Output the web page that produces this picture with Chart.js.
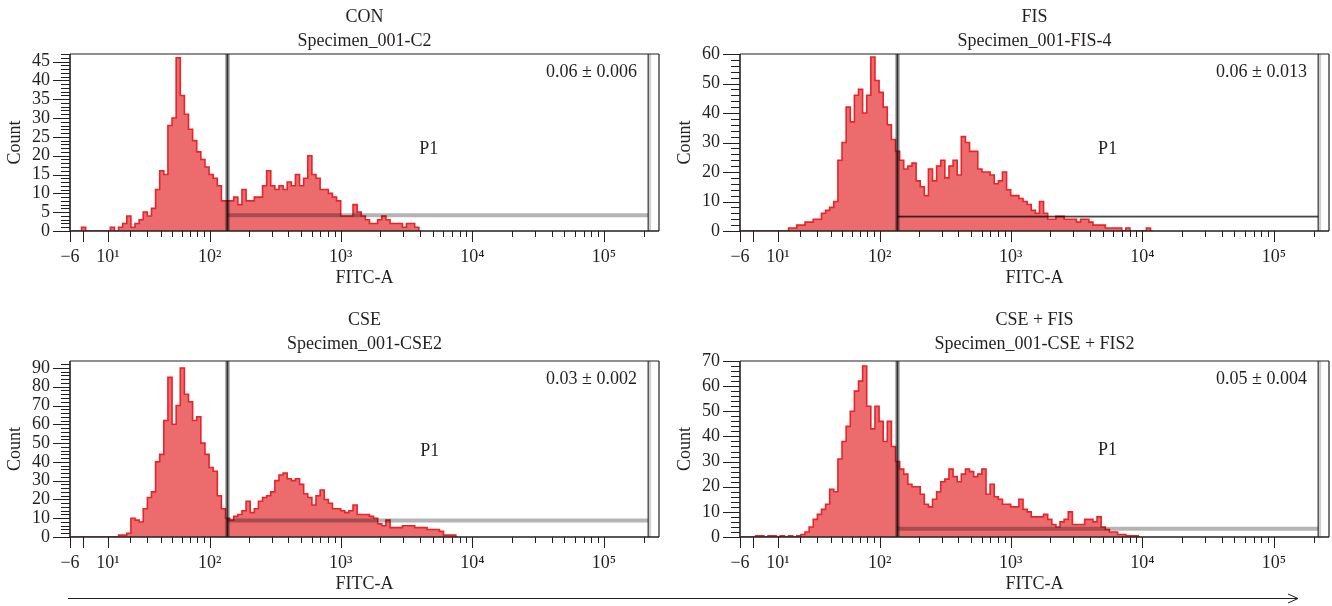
<!DOCTYPE html>
<html>
<head>
<meta charset="utf-8">
<title>FITC-A histograms</title>
<script src="https://cdn.jsdelivr.net/npm/chart.js@4.4.1/dist/chart.umd.min.js"></script>
<style>
  html, body { margin: 0; padding: 0; background: #fff; }
  #page { position: relative; width: 1332px; height: 606px; overflow: hidden; }
  #page canvas { position: absolute; }
  #arrow { position: absolute; left: 0; top: 0; pointer-events: none; }
</style>
</head>
<body>
<div id="page">
  <canvas id="pCon" width="666" height="300" style="left:0;top:0"></canvas>
  <canvas id="pFis" width="662" height="300" style="left:670px;top:0"></canvas>
  <canvas id="pCse" width="666" height="306" style="left:0;top:300px"></canvas>
  <canvas id="pCseFis" width="662" height="306" style="left:670px;top:300px"></canvas>
  <svg id="arrow" width="1332" height="606">
    <line x1="68" y1="598.5" x2="1297" y2="598.5" stroke="#231f20" stroke-width="1"/>
    <polyline points="1288,594 1298,598.5 1288,603" fill="none" stroke="#231f20" stroke-width="1"/>
  </svg>
</div>
<script>
// histogram data, one count per display bin (1/32 decade), first bin = FIRST_BIN
const FIRST_BIN = 30;
const BINS_PER_DECADE = 32;

const conCounts = [
  0, 0, 0, 1, 0, 0, 0, 0, 0, 0,
  1, 0, 1, 2, 4, 1, 2, 3, 5, 4,
  6, 11, 16, 15, 28, 30, 46, 36, 31, 27,
  24, 21, 19, 17, 15, 14, 12, 8, 8, 8,
  9, 7, 11, 8, 8, 9, 9, 12, 16, 12,
  11, 12, 11, 13, 12, 15, 12, 14, 20, 15,
  14, 11, 11, 10, 9, 8, 4, 4, 4, 7,
  5, 4, 3, 2, 2, 3, 4, 3, 2, 2,
  2, 1, 2, 2, 1, 0
];
const fisCounts = [
  0, 0, 0, 0, 0, 0, 0, 0, 0, 0,
  0, 0, 1, 1, 2, 2, 3, 3, 4, 4,
  6, 7, 8, 10, 24, 30, 42, 37, 46, 48,
  40, 46, 59, 51, 47, 42, 36, 31, 27, 24,
  21, 22, 23, 17, 15, 12, 21, 17, 22, 24,
  18, 22, 24, 19, 32, 30, 27, 27, 21, 20,
  20, 19, 16, 17, 20, 14, 12, 12, 11, 10,
  9, 7, 6, 10, 6, 4, 4, 5, 5, 4,
  4, 4, 3, 4, 4, 3, 2, 2, 2, 1,
  1, 1, 1, 0, 1, 0, 0, 0, 0, 1,
  0
];
const cseCounts = [
  0, 0, 0, 0, 0, 0, 0, 0, 0, 0,
  0, 0, 1, 1, 2, 10, 9, 8, 15, 21,
  24, 40, 44, 62, 85, 60, 70, 90, 76, 72,
  62, 64, 50, 44, 37, 35, 22, 15, 10, 9,
  11, 12, 14, 19, 13, 15, 19, 21, 22, 24,
  30, 33, 34, 31, 30, 31, 28, 23, 21, 17,
  22, 25, 20, 18, 15, 15, 14, 13, 14, 17,
  12, 12, 12, 11, 10, 7, 6, 9, 5, 5,
  5, 6, 6, 6, 5, 5, 5, 4, 4, 4,
  3, 1, 1, 1, 0
];
const cseFisCounts = [
  0, 0, 0, 0, 0.5, 0.5, 0, 0.5, 0.5, 0,
  0.5, 0, 0.5, 0, 0.5, 1, 2, 4, 7, 9,
  11, 13, 19, 18, 31, 38, 44, 50, 58, 62,
  68, 52, 43, 52, 46, 38, 46, 36, 30, 27,
  25, 21, 20, 20, 17, 13, 12, 15, 18, 22,
  23, 27, 24, 22, 25, 27, 26, 24, 25, 27,
  17, 21, 16, 15, 13, 13, 12, 12, 15, 11,
  10, 8, 8, 8, 9, 7, 5, 4, 6, 7,
  10, 5, 5, 5, 7, 7, 6, 8, 4, 3,
  2, 2, 1, 1, 0.5, 0.5, 0.5, 0
];

const panelTitles = ['CON', 'FIS', 'CSE', 'CSE + FIS'];
const panelSubtitles = ['Specimen_001-C2', 'Specimen_001-FIS-4', 'Specimen_001-CSE2', 'Specimen_001-CSE + FIS2'];
const panelStats = ['0.06 \u00b1 0.006', '0.06 \u00b1 0.013', '0.03 \u00b1 0.002', '0.05 \u00b1 0.004'];
const panelCounts = [conCounts, fisCounts, cseCounts, cseFisCounts];

const yAxisMax = [47, 60, 93.7, 70];
const yLabelStep = [5, 10, 10, 10];
const yMinorStep = [1, 2, 2, 2];

// P1 interval gate: low / high FITC-A edges and the bar height (counts)
const GATE_LOW = 137;
const GATE_HIGH = 217000;
const gateLevels = [4.2, 4.9, 8.8, 3.3];
const gateLabelAt = [[4674, 21.8], [5452, 27.8], [4755, 45.8], [5430, 34.4]];

const X_MIN = -6;
const X_MAX = 262144;
const X_TICK_VALUES = [-6, 10, 100, 1000, 10000, 100000];
const X_TICK_LABELS = ['\u22126', '10\u00b9', '10\u00b2', '10\u00b3', '10\u2074', '10\u2075'];

// styling
const INK = '#231f20';
const LINE_RED = '#e6242a';
const FILL_RED = '#ec6c6e';
const TEXT_SIZE = 18;
const PANEL_IDS = ['pCon', 'pFis', 'pCse', 'pCseFis'];
const LAYOUT = [
    { top: 54, right: 7, titleGap: [37, 13], thinGate: false },
    { top: 54, right: 3, titleGap: [37, 13], thinGate: true },
    { top: 61, right: 7, titleGap: [41, 17], thinGate: false },
    { top: 61, right: 3, titleGap: [41, 17], thinGate: false }
];

// biexponential-like display transform used by the cytometer software
const LOGICLE_W = 11;
const NEG_SLOPE = 0.01633;
const T0 = Math.log10(LOGICLE_W);
function toDisplay(v) {
    if (v >= 0) return T0 + Math.asinh(v / (2 * LOGICLE_W)) / Math.LN10;
    return T0 + v * NEG_SLOPE;
}
function fromDisplay(t) {
    if (t >= T0) return 2 * LOGICLE_W * Math.sinh((t - T0) * Math.LN10);
    return (t - T0) / NEG_SLOPE;
}

class LogicleScale extends Chart.LinearScale {
    static id = 'logicle';
    static defaults = {};

    determineDataLimits() {
        this.min = this.options.min;
        this.max = this.options.max;
    }
    buildTicks() {
        this.start = this.min;
        this.end = this.max;
        return X_TICK_VALUES.map(v => ({ value: v }));
    }
    configure() {
        super.configure();
        this._tMin = toDisplay(this.min);
        this._tMax = toDisplay(this.max);
    }
    getPixelForValue(value) {
        if (value === null || value === undefined) return NaN;
        return this.getPixelForDecimal((toDisplay(value) - this._tMin) / (this._tMax - this._tMin));
    }
    getValueForPixel(pixel) {
        return fromDisplay(this._tMin + this.getDecimalForPixel(pixel) * (this._tMax - this._tMin));
    }
}
Chart.register(LogicleScale);

Chart.defaults.font.family = '"Liberation Serif", "DejaVu Serif", serif';
Chart.defaults.color = INK;

const longTicks = [-6, 0, 10, 100, 1000, 10000, 100000];
const shortTicks = [];
[10, 100, 1000, 10000].forEach(d => {
    for (let m = 2; m <= 9; m++) shortTicks.push(m * d);
});
shortTicks.push(200000);

const maxBins = Math.max(...panelCounts.map(c => c.length));
const binCenters = Array.from({ length: maxBins }, (_, i) =>
    fromDisplay((FIRST_BIN + i + 0.5) / BINS_PER_DECADE));

function strokeLine(ctx, x1, y1, x2, y2) {
    ctx.beginPath();
    ctx.moveTo(x1, y1);
    ctx.lineTo(x2, y2);
    ctx.stroke();
}

function panelDecor(i) {
    const lay = LAYOUT[i];
    return {
        id: 'panelDecor' + i,
        afterDatasetsDraw(chart) {
            const ctx = chart.ctx;
            const a = chart.chartArea;
            const xs = chart.scales.x;
            const ys = chart.scales.y;

            // gate
            const xl = xs.getPixelForValue(GATE_LOW);
            const xr = xs.getPixelForValue(GATE_HIGH);
            const yg = ys.getPixelForValue(gateLevels[i]);
            ctx.save();
            ctx.globalCompositeOperation = 'multiply';
            if (lay.thinGate) {
                ctx.strokeStyle = '#c4c4c4';
                ctx.lineWidth = 3;
                strokeLine(ctx, xl, yg, xr, yg);
                ctx.strokeStyle = '#5a5a5a';
                ctx.lineWidth = 1.3;
                strokeLine(ctx, xl, yg, xr, yg);
            } else {
                ctx.strokeStyle = '#b4b4b4';
                ctx.lineWidth = 4;
                strokeLine(ctx, xl, yg, xr, yg);
            }
            ctx.strokeStyle = '#b8b8b8';
            ctx.lineWidth = 5;
            strokeLine(ctx, xl, a.top, xl, a.bottom);
            ctx.strokeStyle = '#4a4a4a';
            ctx.lineWidth = 2;
            strokeLine(ctx, xl, a.top, xl, a.bottom);
            ctx.strokeStyle = '#cfcfcf';
            ctx.lineWidth = 3;
            strokeLine(ctx, xr + 1.5, a.top, xr + 1.5, a.bottom);
            ctx.strokeStyle = '#6a6a6a';
            ctx.lineWidth = 1.6;
            strokeLine(ctx, xr, a.top, xr, a.bottom);
            ctx.restore();

            // frame and tick marks
            ctx.save();
            ctx.strokeStyle = INK;
            ctx.lineWidth = 1.6;
            strokeLine(ctx, a.left, a.bottom, a.right, a.bottom);
            strokeLine(ctx, a.left, a.top, a.left, a.bottom);
            ctx.lineWidth = 1.2;
            strokeLine(ctx, a.left, a.top, a.right, a.top);
            strokeLine(ctx, a.right, a.top, a.right, a.bottom);
            ctx.lineWidth = 1;
            ctx.beginPath();
            longTicks.forEach(v => {
                const px = Math.round(xs.getPixelForValue(v)) + 0.5;
                ctx.moveTo(px, a.bottom);
                ctx.lineTo(px, a.bottom + 11);
            });
            shortTicks.forEach(v => {
                const px = Math.round(xs.getPixelForValue(v)) + 0.5;
                ctx.moveTo(px, a.bottom);
                ctx.lineTo(px, a.bottom + 6);
            });
            for (let v = 0; v <= yAxisMax[i] + 1e-9; v += yMinorStep[i]) {
                const py = Math.round(ys.getPixelForValue(v)) + 0.5;
                const len = v % yLabelStep[i] === 0 ? 17 : 9;
                ctx.moveTo(a.left - len, py);
                ctx.lineTo(a.left, py);
            }
            ctx.stroke();
            ctx.restore();
        },
        afterDraw(chart) {
            const ctx = chart.ctx;
            const a = chart.chartArea;
            const xs = chart.scales.x;
            const ys = chart.scales.y;
            const cx = (a.left + a.right) / 2;
            ctx.save();
            ctx.fillStyle = INK;
            ctx.font = TEXT_SIZE + 'px "Liberation Serif", serif';
            ctx.textAlign = 'center';
            ctx.textBaseline = 'middle';
            ctx.fillText(panelTitles[i], cx, a.top - lay.titleGap[0]);
            ctx.fillText(panelSubtitles[i], cx, a.top - lay.titleGap[1]);
            ctx.fillText('FITC-A', cx, a.bottom + 47);
            ctx.fillText('P1', xs.getPixelForValue(gateLabelAt[i][0]), ys.getPixelForValue(gateLabelAt[i][1]));
            ctx.textAlign = 'right';
            ctx.fillText(panelStats[i], a.right - 22, a.top + 18);
            ctx.translate(15, (a.top + a.bottom) / 2);
            ctx.rotate(-Math.PI / 2);
            ctx.textAlign = 'center';
            ctx.fillText('Count', 0, 0);
            ctx.restore();
        }
    };
}

function buildPanel(i) {
    const lay = LAYOUT[i];
    const points = panelCounts[i].map((c, j) => ({ x: binCenters[j], y: c }));
    return new Chart(document.getElementById(PANEL_IDS[i]), {
        type: 'line',
        data: {
            datasets: [{
                data: points,
                stepped: 'middle',
                fill: 'origin',
                borderColor: LINE_RED,
                backgroundColor: FILL_RED,
                borderWidth: 1.6,
                pointRadius: 0,
                pointHoverRadius: 0,
                clip: 0
            }]
        },
        options: {
            responsive: false,
            animation: false,
            events: [],
            layout: { padding: { top: lay.top, right: lay.right, left: 0, bottom: 0 } },
            plugins: {
                legend: { display: false },
                tooltip: { enabled: false },
                title: { display: false }
            },
            scales: {
                x: {
                    type: 'logicle',
                    position: 'bottom',
                    min: X_MIN,
                    max: X_MAX,
                    grid: { display: false, drawTicks: false },
                    border: { display: false },
                    ticks: {
                        autoSkip: false,
                        maxRotation: 0,
                        padding: 15,
                        color: INK,
                        font: { size: TEXT_SIZE },
                        callback: v => {
                            const k = X_TICK_VALUES.indexOf(v);
                            return k >= 0 ? X_TICK_LABELS[k] : '';
                        }
                    },
                    afterFit: s => { s.height = 69; }
                },
                y: {
                    type: 'linear',
                    min: 0,
                    max: yAxisMax[i],
                    grid: { display: false, drawTicks: false },
                    border: { display: false },
                    ticks: {
                        stepSize: yLabelStep[i],
                        includeBounds: false,
                        autoSkip: false,
                        padding: 20,
                        color: INK,
                        font: { size: TEXT_SIZE }
                    },
                    afterFit: s => { s.width = 70; }
                }
            }
        },
        plugins: [panelDecor(i)]
    });
}

PANEL_IDS.forEach((id, i) => buildPanel(i));
</script>
</body>
</html>
